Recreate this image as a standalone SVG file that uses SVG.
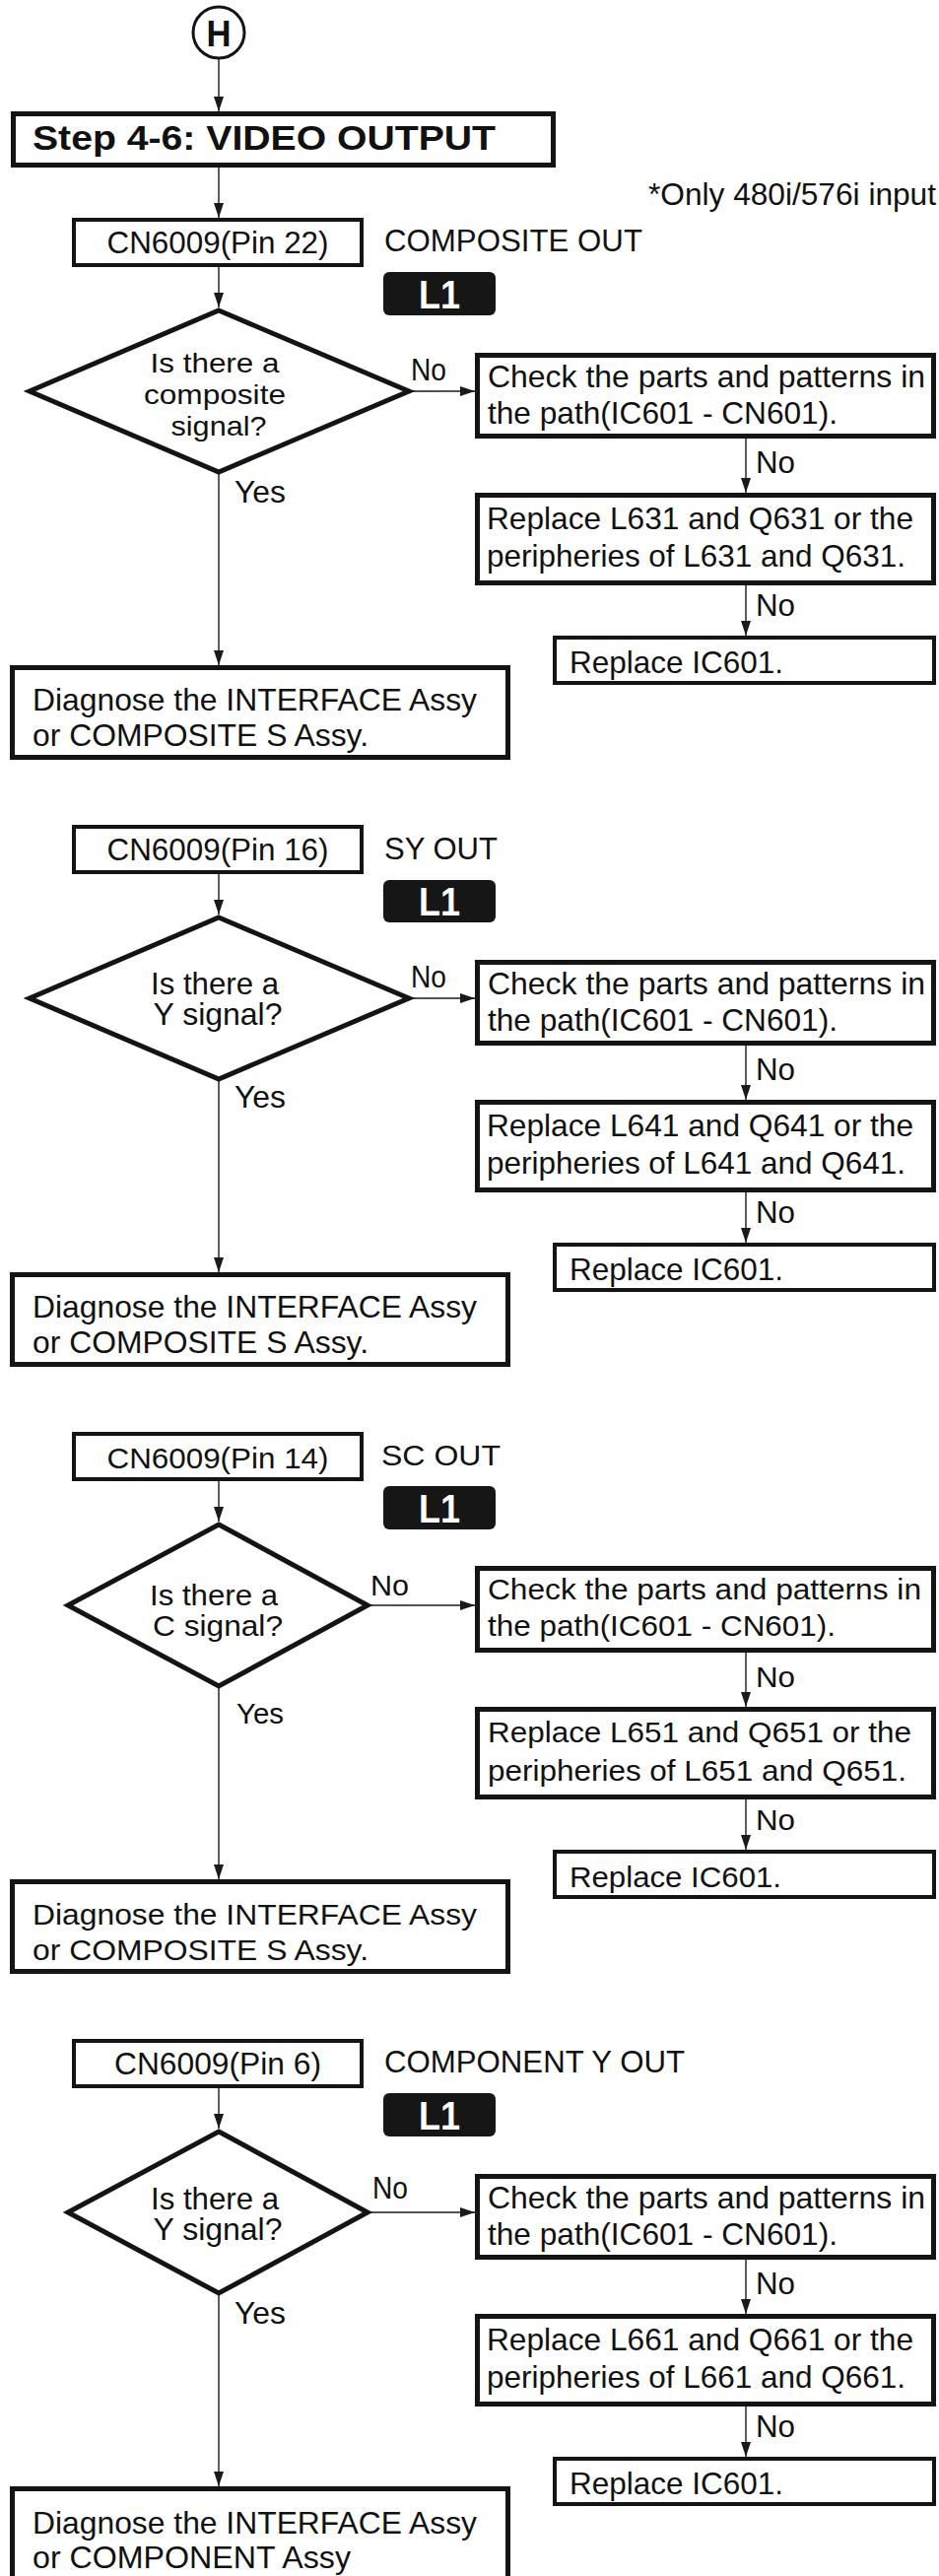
<svg xmlns="http://www.w3.org/2000/svg" width="953" height="2614" viewBox="0 0 953 2614">
<style>
.bg{fill:#ffffff}
.box{fill:#ffffff;stroke:#141414;stroke-width:5}
.boxs{fill:#ffffff;stroke:#141414;stroke-width:4}
.dia{fill:#ffffff;stroke:#141414;stroke-width:5;stroke-linejoin:miter}
.ln{fill:none;stroke:#1a1a1a;stroke-width:1.4}
.t{font-family:"Liberation Sans",Arial,sans-serif;font-size:32px;fill:#111111}
.t3{font-family:"Liberation Sans",Arial,sans-serif;font-size:30px;fill:#111111}
.td{font-family:"Liberation Sans",Arial,sans-serif;font-size:28px;fill:#111111}
.tb{font-family:"Liberation Sans",Arial,sans-serif;font-weight:bold;fill:#111111}
.badge{fill:#161616}
.bt{font-family:"Liberation Sans",Arial,sans-serif;font-weight:bold;font-size:40px;fill:#ffffff}
</style>
<defs>
<marker id="ah" viewBox="0 0 15 10" markerWidth="15" markerHeight="10" refX="15" refY="5" orient="auto" markerUnits="userSpaceOnUse">
<path d="M0,0 L15,5 L0,10 Z" fill="#1a1a1a"/>
</marker>
</defs>
<rect class="bg" x="0" y="0" width="953" height="2614"/>

<g id="connectors">
  <line class="ln" x1="222" y1="60" x2="222" y2="113" marker-end="url(#ah)"/>
  <line class="ln" x1="222" y1="170" x2="222" y2="221" marker-end="url(#ah)"/>
  <g id="conn-s1">
    <line class="ln" x1="222" y1="271" x2="222" y2="312" marker-end="url(#ah)"/>
    <line class="ln" x1="415" y1="397" x2="482" y2="397" marker-end="url(#ah)"/>
    <line class="ln" x1="757" y1="445" x2="757" y2="500" marker-end="url(#ah)"/>
    <line class="ln" x1="757" y1="594" x2="757" y2="645" marker-end="url(#ah)"/>
    <line class="ln" x1="222" y1="481" x2="222" y2="675" marker-end="url(#ah)"/>
  </g>
  <g id="conn-s2" transform="translate(0,616)">
    <line class="ln" x1="222" y1="271" x2="222" y2="312" marker-end="url(#ah)"/>
    <line class="ln" x1="415" y1="397" x2="482" y2="397" marker-end="url(#ah)"/>
    <line class="ln" x1="757" y1="445" x2="757" y2="500" marker-end="url(#ah)"/>
    <line class="ln" x1="757" y1="594" x2="757" y2="645" marker-end="url(#ah)"/>
    <line class="ln" x1="222" y1="481" x2="222" y2="675" marker-end="url(#ah)"/>
  </g>
  <g id="conn-s3" transform="translate(0,1232)">
    <line class="ln" x1="222" y1="271" x2="222" y2="312" marker-end="url(#ah)"/>
    <line class="ln" x1="373" y1="397" x2="482" y2="397" marker-end="url(#ah)"/>
    <line class="ln" x1="757" y1="445" x2="757" y2="500" marker-end="url(#ah)"/>
    <line class="ln" x1="757" y1="594" x2="757" y2="645" marker-end="url(#ah)"/>
    <line class="ln" x1="222" y1="481" x2="222" y2="675" marker-end="url(#ah)"/>
  </g>
  <g id="conn-s4" transform="translate(0,1848)">
    <line class="ln" x1="222" y1="271" x2="222" y2="312" marker-end="url(#ah)"/>
    <line class="ln" x1="373" y1="397" x2="482" y2="397" marker-end="url(#ah)"/>
    <line class="ln" x1="757" y1="445" x2="757" y2="500" marker-end="url(#ah)"/>
    <line class="ln" x1="757" y1="594" x2="757" y2="645" marker-end="url(#ah)"/>
    <line class="ln" x1="222" y1="481" x2="222" y2="675" marker-end="url(#ah)"/>
  </g>
  <g id="edge-labels">
    <text class="t" x="417" y="386" textLength="36" lengthAdjust="spacingAndGlyphs">No</text>
    <text class="t" x="767" y="480" textLength="40" lengthAdjust="spacingAndGlyphs">No</text>
    <text class="t" x="767" y="625" textLength="40" lengthAdjust="spacingAndGlyphs">No</text>
    <text class="t" x="238" y="510" textLength="52" lengthAdjust="spacingAndGlyphs">Yes</text>
    <g transform="translate(0,616)">
      <text class="t" x="417" y="386" textLength="36" lengthAdjust="spacingAndGlyphs">No</text>
      <text class="t" x="767" y="480" textLength="40" lengthAdjust="spacingAndGlyphs">No</text>
      <text class="t" x="767" y="625" textLength="40" lengthAdjust="spacingAndGlyphs">No</text>
      <text class="t" x="238" y="508" textLength="52" lengthAdjust="spacingAndGlyphs">Yes</text>
    </g>
    <g transform="translate(0,1232)">
      <text class="t3" x="376" y="387" textLength="39" lengthAdjust="spacingAndGlyphs">No</text>
      <text class="t3" x="767" y="480" textLength="40" lengthAdjust="spacingAndGlyphs">No</text>
      <text class="t3" x="767" y="625" textLength="40" lengthAdjust="spacingAndGlyphs">No</text>
      <text class="t3" x="240" y="517" textLength="48" lengthAdjust="spacingAndGlyphs">Yes</text>
    </g>
    <g transform="translate(0,1848)">
      <text class="t" x="378" y="383" textLength="36" lengthAdjust="spacingAndGlyphs">No</text>
      <text class="t" x="767" y="480" textLength="40" lengthAdjust="spacingAndGlyphs">No</text>
      <text class="t" x="767" y="625" textLength="40" lengthAdjust="spacingAndGlyphs">No</text>
      <text class="t" x="238" y="510" textLength="52" lengthAdjust="spacingAndGlyphs">Yes</text>
    </g>
  </g>
</g>

<g id="start-H">
  <circle cx="222" cy="33" r="26" fill="#ffffff" stroke="#141414" stroke-width="3"/>
  <text class="tb" x="222" y="47" font-size="36" text-anchor="middle" textLength="25" lengthAdjust="spacingAndGlyphs">H</text>
</g>
<g id="step-title">
  <rect class="box" x="13.5" y="115.5" width="548" height="52"/>
  <text class="tb" x="33" y="152" font-size="35" textLength="470" lengthAdjust="spacingAndGlyphs">Step 4-6: VIDEO OUTPUT</text>
</g>
<g id="note">
  <text class="t" x="658" y="208" font-size="24" textLength="292" lengthAdjust="spacingAndGlyphs">*Only 480i/576i input</text>
</g>

<!-- Section 1 -->
<g id="s1-cn">
  <rect class="boxs" x="75" y="223" width="292" height="46"/>
  <text class="t" x="221" y="257" text-anchor="middle" textLength="225" lengthAdjust="spacingAndGlyphs">CN6009(Pin 22)</text>
</g>
<g id="s1-label"><text class="t" x="390" y="255" textLength="262" lengthAdjust="spacingAndGlyphs">COMPOSITE OUT</text></g>
<g id="s1-badge">
  <rect class="badge" x="389" y="276" width="114" height="44" rx="6"/>
  <text class="bt" x="446" y="313" text-anchor="middle" textLength="42" lengthAdjust="spacingAndGlyphs">L1</text>
</g>
<g id="s1-decision">
  <polygon class="dia" points="222,315 415,397 222,479 30,397"/>
  <text class="td" x="218" y="378" text-anchor="middle" textLength="131" lengthAdjust="spacingAndGlyphs">Is there a</text>
  <text class="td" x="218" y="410" text-anchor="middle" textLength="144" lengthAdjust="spacingAndGlyphs">composite</text>
  <text class="td" x="222" y="442" text-anchor="middle" textLength="97" lengthAdjust="spacingAndGlyphs">signal?</text>
</g>
<g id="s1-check">
  <rect class="box" x="484.5" y="360.5" width="463" height="82"/>
  <text class="t" x="495" y="393" textLength="444" lengthAdjust="spacingAndGlyphs">Check the parts and patterns in</text>
  <text class="t" x="495" y="430" textLength="355" lengthAdjust="spacingAndGlyphs">the path(IC601 - CN601).</text>
</g>
<g id="s1-replace-lq">
  <rect class="box" x="484.5" y="502.5" width="463" height="89"/>
  <text class="t" x="494" y="537" textLength="433" lengthAdjust="spacingAndGlyphs">Replace L631 and Q631 or the</text>
  <text class="t" x="494" y="575" textLength="425" lengthAdjust="spacingAndGlyphs">peripheries of L631 and Q631.</text>
</g>
<g id="s1-replace-ic">
  <rect class="boxs" x="563" y="647" width="385" height="46"/>
  <text class="t" x="578" y="683" textLength="217" lengthAdjust="spacingAndGlyphs">Replace IC601.</text>
</g>
<g id="s1-diagnose">
  <rect class="box" x="12.5" y="677.5" width="503" height="91"/>
  <text class="t" x="33" y="721" textLength="451" lengthAdjust="spacingAndGlyphs">Diagnose the INTERFACE Assy</text>
  <text class="t" x="33" y="757" textLength="341" lengthAdjust="spacingAndGlyphs">or COMPOSITE S Assy.</text>
</g>

<!-- Section 2 -->
<g id="s2-cn" transform="translate(0,616)">
  <rect class="boxs" x="75" y="223" width="292" height="46"/>
  <text class="t" x="221" y="257" text-anchor="middle" textLength="225" lengthAdjust="spacingAndGlyphs">CN6009(Pin 16)</text>
</g>
<g id="s2-label" transform="translate(0,616)"><text class="t" x="390" y="256" textLength="115" lengthAdjust="spacingAndGlyphs">SY OUT</text></g>
<g id="s2-badge" transform="translate(0,616)">
  <rect class="badge" x="389" y="277" width="114" height="43" rx="6"/>
  <text class="bt" x="446" y="313" text-anchor="middle" textLength="42" lengthAdjust="spacingAndGlyphs">L1</text>
</g>
<g id="s2-decision" transform="translate(0,616)">
  <polygon class="dia" points="222,315 415,397 222,479 30,397"/>
  <text class="t" x="218" y="393" text-anchor="middle" textLength="130" lengthAdjust="spacingAndGlyphs">Is there a</text>
  <text class="t" x="221" y="424" text-anchor="middle" textLength="131" lengthAdjust="spacingAndGlyphs">Y signal?</text>
</g>
<g id="s2-check" transform="translate(0,616)">
  <rect class="box" x="484.5" y="360.5" width="463" height="82"/>
  <text class="t" x="495" y="393" textLength="444" lengthAdjust="spacingAndGlyphs">Check the parts and patterns in</text>
  <text class="t" x="495" y="430" textLength="355" lengthAdjust="spacingAndGlyphs">the path(IC601 - CN601).</text>
</g>
<g id="s2-replace-lq" transform="translate(0,616)">
  <rect class="box" x="484.5" y="502.5" width="463" height="89"/>
  <text class="t" x="494" y="537" textLength="433" lengthAdjust="spacingAndGlyphs">Replace L641 and Q641 or the</text>
  <text class="t" x="494" y="575" textLength="425" lengthAdjust="spacingAndGlyphs">peripheries of L641 and Q641.</text>
</g>
<g id="s2-replace-ic" transform="translate(0,616)">
  <rect class="boxs" x="563" y="647" width="385" height="46"/>
  <text class="t" x="578" y="683" textLength="217" lengthAdjust="spacingAndGlyphs">Replace IC601.</text>
</g>
<g id="s2-diagnose" transform="translate(0,616)">
  <rect class="box" x="12.5" y="677.5" width="503" height="91"/>
  <text class="t" x="33" y="721" textLength="451" lengthAdjust="spacingAndGlyphs">Diagnose the INTERFACE Assy</text>
  <text class="t" x="33" y="757" textLength="341" lengthAdjust="spacingAndGlyphs">or COMPOSITE S Assy.</text>
</g>

<!-- Section 3 -->
<g id="s3-cn" transform="translate(0,1232)">
  <rect class="boxs" x="75" y="223" width="292" height="46"/>
  <text class="t3" x="221" y="258" text-anchor="middle" textLength="225" lengthAdjust="spacingAndGlyphs">CN6009(Pin 14)</text>
</g>
<g id="s3-label" transform="translate(0,1232)"><text class="t3" x="387" y="255" textLength="121" lengthAdjust="spacingAndGlyphs">SC OUT</text></g>
<g id="s3-badge" transform="translate(0,1232)">
  <rect class="badge" x="389" y="276" width="114" height="44" rx="6"/>
  <text class="bt" x="446" y="313" text-anchor="middle" textLength="42" lengthAdjust="spacingAndGlyphs">L1</text>
</g>
<g id="s3-decision" transform="translate(0,1232)">
  <polygon class="dia" points="222,315 373,397 222,479 69,397"/>
  <text class="t3" x="217" y="397" text-anchor="middle" textLength="130" lengthAdjust="spacingAndGlyphs">Is there a</text>
  <text class="t3" x="221" y="428" text-anchor="middle" textLength="132" lengthAdjust="spacingAndGlyphs">C signal?</text>
</g>
<g id="s3-check" transform="translate(0,1232)">
  <rect class="box" x="484.5" y="359.5" width="463" height="83"/>
  <text class="t3" x="495" y="391" textLength="440" lengthAdjust="spacingAndGlyphs">Check the parts and patterns in</text>
  <text class="t3" x="495" y="428" textLength="353" lengthAdjust="spacingAndGlyphs">the path(IC601 - CN601).</text>
</g>
<g id="s3-replace-lq" transform="translate(0,1232)">
  <rect class="box" x="484.5" y="502.5" width="463" height="89"/>
  <text class="t3" x="495" y="536" textLength="430" lengthAdjust="spacingAndGlyphs">Replace L651 and Q651 or the</text>
  <text class="t3" x="495" y="575" textLength="425" lengthAdjust="spacingAndGlyphs">peripheries of L651 and Q651.</text>
</g>
<g id="s3-replace-ic" transform="translate(0,1232)">
  <rect class="boxs" x="563" y="647" width="385" height="46"/>
  <text class="t3" x="578" y="683" textLength="215" lengthAdjust="spacingAndGlyphs">Replace IC601.</text>
</g>
<g id="s3-diagnose" transform="translate(0,1232)">
  <rect class="box" x="12.5" y="677.5" width="503" height="91"/>
  <text class="t3" x="33" y="721" textLength="451" lengthAdjust="spacingAndGlyphs">Diagnose the INTERFACE Assy</text>
  <text class="t3" x="33" y="757" textLength="341" lengthAdjust="spacingAndGlyphs">or COMPOSITE S Assy.</text>
</g>

<!-- Section 4 -->
<g id="s4-cn" transform="translate(0,1848)">
  <rect class="boxs" x="75" y="223" width="292" height="46"/>
  <text class="t" x="221" y="257" text-anchor="middle" textLength="210" lengthAdjust="spacingAndGlyphs">CN6009(Pin 6)</text>
</g>
<g id="s4-label" transform="translate(0,1848)"><text class="t" x="390" y="255" textLength="305" lengthAdjust="spacingAndGlyphs">COMPONENT Y OUT</text></g>
<g id="s4-badge" transform="translate(0,1848)">
  <rect class="badge" x="389" y="276" width="114" height="44" rx="6"/>
  <text class="bt" x="446" y="313" text-anchor="middle" textLength="42" lengthAdjust="spacingAndGlyphs">L1</text>
</g>
<g id="s4-decision" transform="translate(0,1848)">
  <polygon class="dia" points="222,315 373,397 222,479 69,397"/>
  <text class="t" x="218" y="394" text-anchor="middle" textLength="130" lengthAdjust="spacingAndGlyphs">Is there a</text>
  <text class="t" x="221" y="425" text-anchor="middle" textLength="131" lengthAdjust="spacingAndGlyphs">Y signal?</text>
</g>
<g id="s4-check" transform="translate(0,1848)">
  <rect class="box" x="484.5" y="360.5" width="463" height="82"/>
  <text class="t" x="495" y="393" textLength="444" lengthAdjust="spacingAndGlyphs">Check the parts and patterns in</text>
  <text class="t" x="495" y="430" textLength="355" lengthAdjust="spacingAndGlyphs">the path(IC601 - CN601).</text>
</g>
<g id="s4-replace-lq" transform="translate(0,1848)">
  <rect class="box" x="484.5" y="502.5" width="463" height="89"/>
  <text class="t" x="494" y="537" textLength="433" lengthAdjust="spacingAndGlyphs">Replace L661 and Q661 or the</text>
  <text class="t" x="494" y="575" textLength="425" lengthAdjust="spacingAndGlyphs">peripheries of L661 and Q661.</text>
</g>
<g id="s4-replace-ic" transform="translate(0,1848)">
  <rect class="boxs" x="563" y="647" width="385" height="46"/>
  <text class="t" x="578" y="683" textLength="217" lengthAdjust="spacingAndGlyphs">Replace IC601.</text>
</g>
<g id="s4-diagnose" transform="translate(0,1848)">
  <rect class="box" x="12.5" y="677.5" width="503" height="93"/>
  <text class="t" x="33" y="723" textLength="451" lengthAdjust="spacingAndGlyphs">Diagnose the INTERFACE Assy</text>
  <text class="t" x="33" y="758" textLength="323" lengthAdjust="spacingAndGlyphs">or COMPONENT Assy</text>
</g>
</svg>
